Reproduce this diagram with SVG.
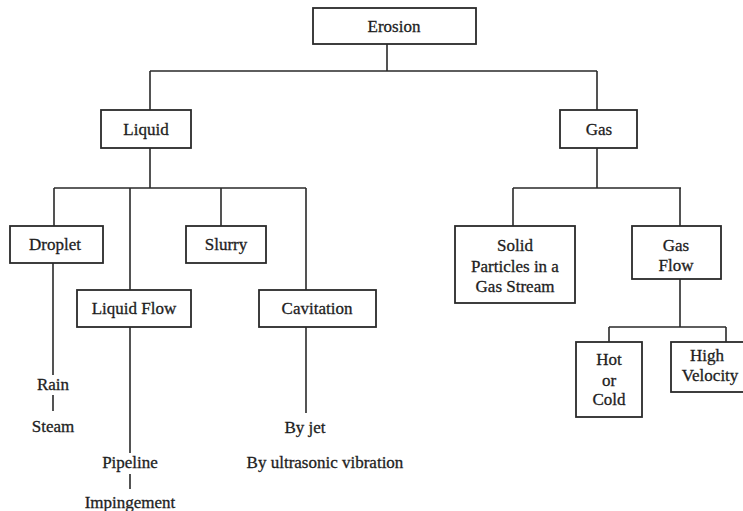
<svg xmlns="http://www.w3.org/2000/svg" width="743" height="511" viewBox="0 0 743 511">
<style>
.box{fill:#fff;stroke:#2a2a2a;stroke-width:1.8}
.ln{fill:none;stroke:#2a2a2a;stroke-width:1.6}
text{font-family:"Liberation Serif","Times New Roman",serif;font-size:17px;fill:#1e1e1e;stroke:#1e1e1e;stroke-width:0.3;text-anchor:middle}
</style>
<rect width="743" height="511" fill="#fff"/>
<g id="connectors">
<path class="ln" d="M387,44V71M150,71H597M150,71V110M597,71V110"/>
<path class="ln" d="M150,148V188M54,188H306M54,188V226M130,188V290M221,188V226M306,188V290"/>
<path class="ln" d="M597,148V188M513,188H681M513,188V226M680,188V226"/>
<path class="ln" d="M680,279V327M609,327H726M609,327V342M726,327V342"/>
<path class="ln" d="M53,263V375M53,395V411"/>
<path class="ln" d="M130,327V453M130,474V489"/>
<path class="ln" d="M306,327V413"/>
</g>
<g id="erosion"><rect class="box" x="313" y="8" width="163" height="36"/><text x="394" y="32">Erosion</text></g>
<g id="liquid"><rect class="box" x="101" y="110" width="90" height="38"/><text x="146" y="135">Liquid</text></g>
<g id="gas"><rect class="box" x="560" y="110" width="77" height="38"/><text x="599" y="135">Gas</text></g>
<g id="droplet"><rect class="box" x="10" y="226" width="93" height="37"/><text x="55" y="250">Droplet</text></g>
<g id="slurry"><rect class="box" x="186" y="226" width="80" height="37"/><text x="226" y="250">Slurry</text></g>
<g id="liquidflow"><rect class="box" x="77" y="290" width="114" height="37"/><text x="134" y="314">Liquid Flow</text></g>
<g id="cavitation"><rect class="box" x="259" y="290" width="117" height="37"/><text x="317" y="314">Cavitation</text></g>
<g id="solid"><rect class="box" x="455" y="226" width="120" height="77"/><text x="515" y="251">Solid</text><text x="515" y="272">Particles in a</text><text x="515" y="292">Gas Stream</text></g>
<g id="gasflow"><rect class="box" x="632" y="226" width="89" height="53"/><text x="676" y="251">Gas</text><text x="676" y="271">Flow</text></g>
<g id="hotcold"><rect class="box" x="576" y="342" width="66" height="75"/><text x="609" y="365">Hot</text><text x="609" y="386">or</text><text x="609" y="405">Cold</text></g>
<g id="highvelocity"><rect class="box" x="671" y="342" width="80" height="50"/><text x="707" y="361">High</text><text x="710" y="381">Velocity</text></g>
<g id="rain"><text x="53" y="390">Rain</text></g>
<g id="steam"><text x="53" y="432">Steam</text></g>
<g id="pipeline"><text x="130" y="468">Pipeline</text></g>
<g id="impingement"><text x="130" y="508">Impingement</text></g>
<g id="byjet"><text x="305" y="433">By jet</text></g>
<g id="byultrasonic"><text x="325" y="468">By ultrasonic vibration</text></g>
</svg>
